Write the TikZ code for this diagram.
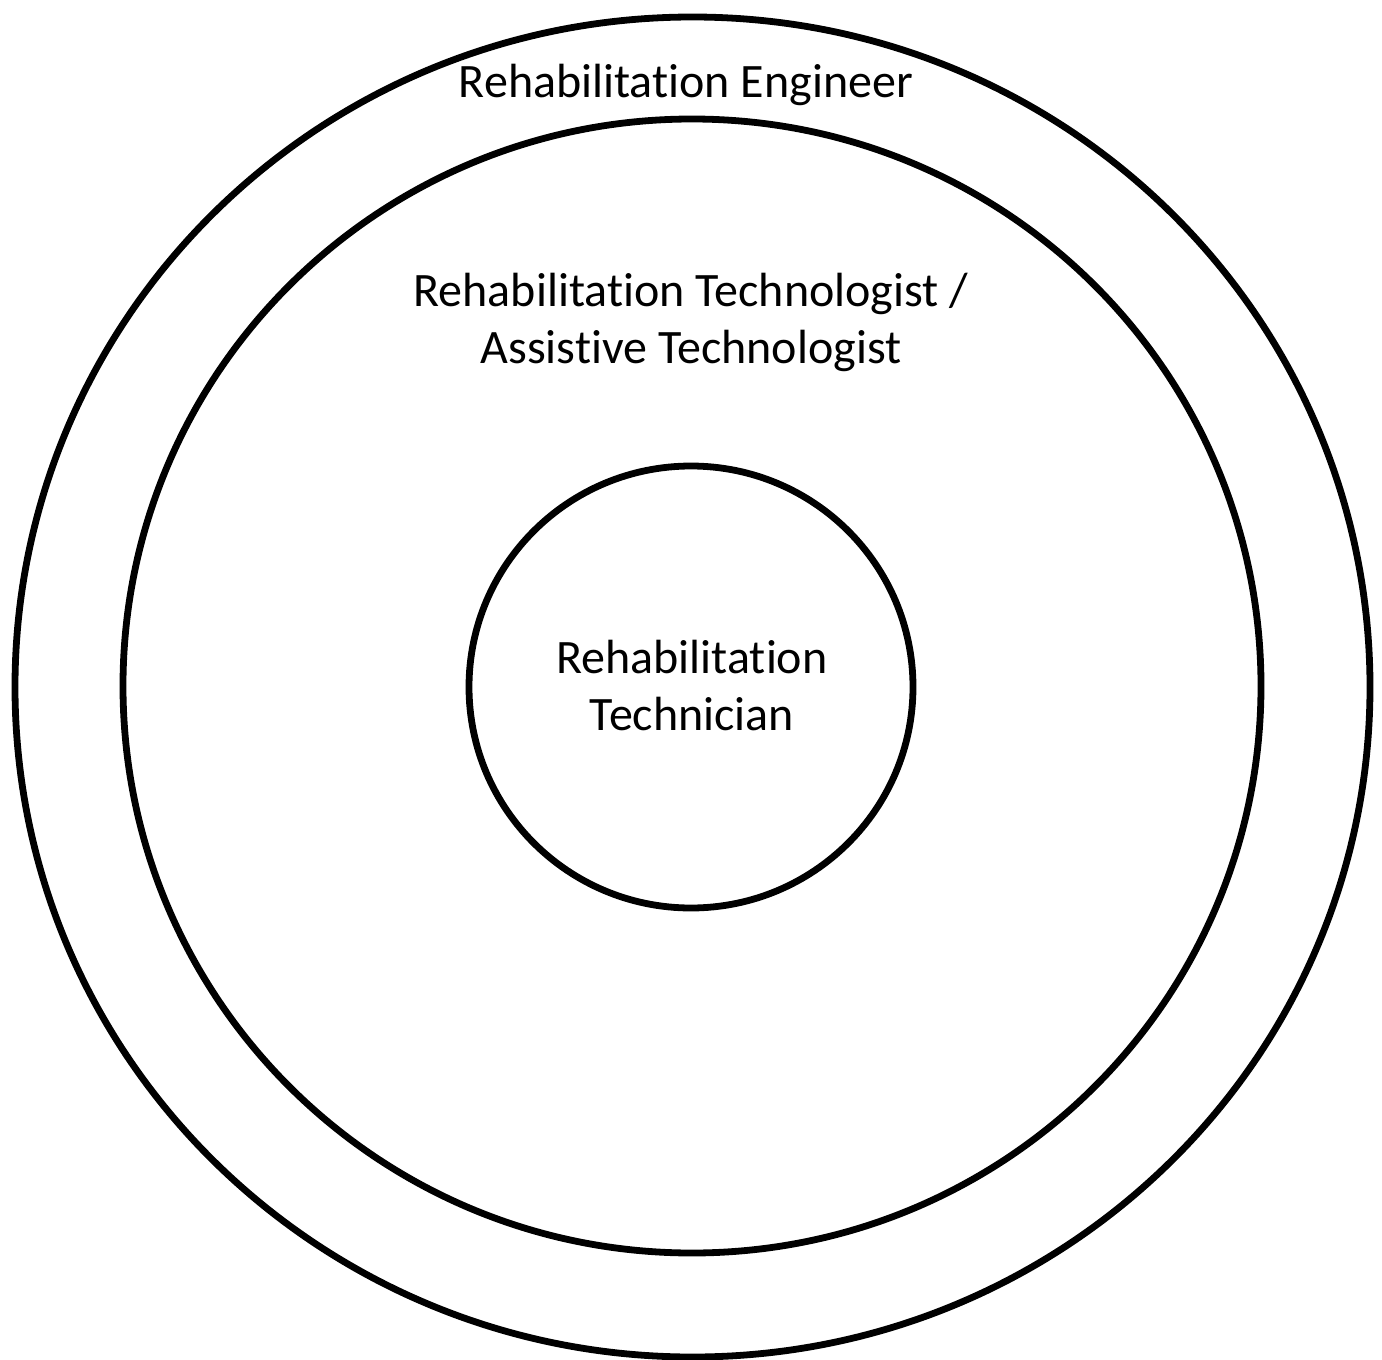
\documentclass[tikz,border=0pt]{standalone}
\usepackage{fontspec}
\setmainfont[Ligatures=NoCommon]{Carlito}
\tikzset{every picture/.style={line width=3.4pt}}
\tikzset{ringlabel/.style={anchor=base,inner sep=0pt,align=center,font=\fontsize{24}{28.5}\selectfont}}

\begin{document}
\begin{tikzpicture}[x=0.5pt,y=0.5pt,yscale=-1,xscale=1]
\useasboundingbox (0,0) rectangle (1382,1360);

%Shape: Circle [id:engineer]
\draw  (692.5,687) ellipse (677.5 and 670);
%Shape: Circle [id:technologist]
\draw  (692,686) ellipse (569 and 567);
%Shape: Circle [id:technician]
\draw  (691,687) ellipse (222 and 221);

% Text Node
\node [ringlabel] (engineer) at (686,97) {Rehabilitation Engineer};
% Text Node
\node [ringlabel] (technologist) at (691,363) {Rehabilitation Technologist /\\Assistive Technologist};
% Text Node
\node [ringlabel] (technician) at (692,730) {Rehabilitation\\Technician};

\end{tikzpicture}
\end{document}
